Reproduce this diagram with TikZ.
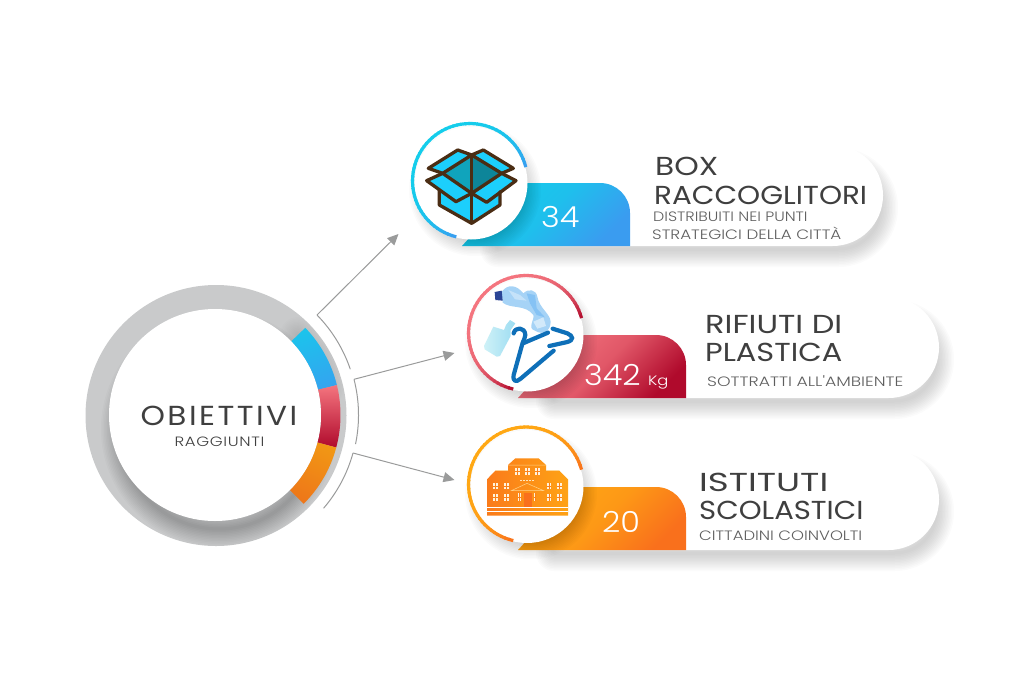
\documentclass[tikz,border=0pt]{standalone}
\usepackage{fontspec}
\setmainfont{Poppins}
\newfontfamily\sottile{Poppins Light}
\usetikzlibrary{arrows.meta}
\definecolor{testo}{HTML}{3F3F3F}
\definecolor{testochiaro}{HTML}{5E5E5E}
\definecolor{anellogrigio}{HTML}{C9CACB}
\definecolor{linea}{HTML}{9A9B9B}
\definecolor{ciano}{HTML}{14CDEB}
\definecolor{azzurro}{HTML}{3A9CF0}
\definecolor{rosa}{HTML}{F4757F}
\definecolor{rosso}{HTML}{B00A2C}
\definecolor{giallo}{HTML}{FFA814}
\definecolor{arancio}{HTML}{F9701C}
\definecolor{cartone}{HTML}{4A2D14}
\definecolor{scatola}{HTML}{1CCFFC}
\definecolor{gruccia}{HTML}{0E6FB8}
\definecolor{vetro}{HTML}{AEE8F2}
\definecolor{plastica}{HTML}{A6D3F6}
\definecolor{tappo}{HTML}{2B4596}
\tikzset{
  titolo/.style={anchor=base west, inner sep=0pt, text=testo, font=\fontsize{26}{26}\selectfont\addfontfeature{FakeStretch=#1}},
  titolo/.default=1.13,
  sotto/.style={anchor=base west, inner sep=0pt, text=testochiaro, font=\sottile\fontsize{13.6}{14}\selectfont\addfontfeature{FakeStretch=#1}},
  sotto/.default=1.2,
  numero/.style={anchor=base west, inner sep=0pt, text=white, font=\sottile\fontsize{29}{29}\selectfont\addfontfeature{FakeStretch=1.1}},
  freccia/.style={draw=linea, line width=1pt, -{Triangle[length=11pt,width=10pt]}},
  arco/.style={draw=linea, line width=1pt},
}
% soft shadow: many wide strokes, nearly transparent
\newcommand{\ombra}[2]{\foreach \w in {3,6,...,36}{\path[draw=black,line width=\w pt,opacity=#1,line join=round] #2;}}
% card with its coloured tab
\newcommand{\scheda}[5]{%
  \begin{scope}[shift={(6,-9)}]
    \ombra{.014}{(#1+40,-#2-12) -- (#3-50.5,-#2-12) arc (90:-90:41.5pt) -- (#1+30,-#2-95) -- cycle}
  \end{scope}
  \fill[white] (#1+28,-#2) -- (#3-50.5,-#2) arc (90:-90:50.5pt) -- (#1,-#2-101) -- cycle;
  \shade[top color=#4,bottom color=#5,middle color=#4!72!#5,shading angle=45] (#1,-#2-101) -- (#1+28,-#2-70) -- (#1+28,-#2-38)
    -- (#1+138,-#2-38) arc (90:0:30pt) -- (#1+168,-#2-101) -- cycle;
}
% white disc with shadow
\newcommand{\disco}[1]{%
  \ombra{.016}{(#1) ++(5,-9) circle (48pt)}
  \fill[white] (#1) ++(1pt,-2pt) circle (56.5pt);
}
% arc that goes from one colour at its ends to another in the middle
\newcommand{\anello}[5]{%
  \foreach \i in {0,...,59}{%
    \pgfmathsetmacro\aa{#2+(#3-#2)*\i/60}
    \pgfmathsetmacro\bb{#2+(#3-#2)*(\i+1.3)/60}
    \pgfmathsetmacro\mix{100*(1-((\i+.5)/30-1)^4)}
    \draw[line width=3.2pt,color=#5!\mix!#4] (#1) ++(\aa:57.5pt) arc (\aa:\bb:57.5pt);
  }
}
% window of the school
\newcommand{\finestra}[4]{%
  \fill[color=white!85!giallo] (#1,#2) rectangle ++(#3,#4);
  \draw[color=arancio!70!giallo,line width=.35pt] (#1+#3/2,#2) -- ++(0,#4) (#1,#2+#4/2) -- ++(#3,0);
}
\begin{document}
\begin{tikzpicture}[x=1pt,y=1pt]
\useasboundingbox (0,0) rectangle (1024,-683);
\coordinate (hub) at (215,-415);

% big ring
\fill[anellogrigio] (216,-415.5) circle (130.5pt);
\begin{scope}
  \clip (216,-415.5) circle (130.5pt);
  \ombra{.019}{(hub) ++(4,-14) circle (100pt)}
  \ombra{.006}{(hub) ++(44:115pt) arc (44:14:115pt) -- cycle}
\end{scope}
\shade[top color=ciano,bottom color=azzurro,shading angle=20] (hub) ++(44:125.5pt) arc (44:13.8:125.5pt)
  -- ++(193.8:19.5pt) arc (13.8:44:106pt) -- cycle;
\shade[top color=rosa,bottom color=rosso] (hub) ++(13.8:125.5pt) arc (13.8:-15:125.5pt)
  -- ++(165:19.5pt) arc (-15:13.8:106pt) -- cycle;
\shade[top color=giallo!95!black,bottom color=arancio!95!black,shading angle=-25] (hub) ++(-15:125.5pt) arc (-15:-45:125.5pt)
  -- ++(135:19.5pt) arc (-45:-15:106pt) -- cycle;
\fill[white] (hub) circle (106pt);
\node[text=testo, inner sep=0pt, font=\fontsize{27.5}{28}\selectfont\addfontfeature{LetterSpace=9,FakeStretch=1.13}] (obiettivi) at (219,-416) {OBIETTIVI};
\node[text=testo, inner sep=0pt, font=\sottile\fontsize{13.5}{14}\selectfont\addfontfeature{LetterSpace=5,FakeStretch=1.22}] (raggiunti) at (219.5,-442) {RAGGIUNTI};

% arcs and arrows
\coordinate (startA) at (317,-315);
\coordinate (tipA) at (398.5,-234);
\coordinate (startB) at (354,-379.3);
\coordinate (tipB) at (454.5,-353);
\coordinate (startC) at (353,-453);
\coordinate (tipC) at (454.5,-480);
\draw[arco] (startA) arc (44.4:18.7:143pt);
\draw[arco] (startB) arc (14.4:-11.7:143.5pt);
\draw[arco] (startC) arc (-15.4:-40.7:143pt);
\draw[freccia] (startA) -- (tipA);
\draw[freccia] (startB) -- (tipB);
\draw[freccia] (startC) -- (tipC);

% cards
\scheda{462}{145}{883}{ciano}{azzurro}
\scheda{518}{297}{939}{rosa}{rosso}
\scheda{518}{449}{939}{giallo}{arancio}

\coordinate (boxC) at (470,-181);
\coordinate (plasticaC) at (526,-333);
\coordinate (scuolaC) at (526,-484.5);
\disco{boxC}
\disco{plasticaC}
\disco{scuolaC}
\anello{boxC}{14}{255}{azzurro}{ciano}
\anello{plasticaC}{15}{256}{rosso}{rosa}
\anello{scuolaC}{15}{256}{arancio}{giallo}

% box
\begin{scope}[shift={(420,-140)},x=0.3333pt,y=-0.3333pt]
  \fill[scatola] (58,150) -- (58,195) -- (155,250) -- (240,195) -- (240,150) -- (155,100) -- cycle;
  \fill[scatola] (113,30) -- (25,85) -- (68,100) -- (155,45) -- cycle;
  \fill[scatola] (190,30) -- (280,85) -- (245,100) -- (155,45) -- cycle;
  \fill[scatola] (68,100) -- (20,122) -- (108,185) -- (155,160) -- cycle;
  \fill[scatola] (245,100) -- (288,122) -- (200,187) -- (155,160) -- cycle;
  \fill[color=ciano!80!black] (155,45) -- (68,100) -- (155,160) -- cycle;
  \fill[color=ciano!65!black] (155,45) -- (245,100) -- (155,160) -- cycle;
  \begin{scope}[draw=cartone,line width=3.3pt,line join=round,line cap=round]
    \draw (113,30) -- (25,85) -- (68,100) -- (155,45) -- cycle;
    \draw (190,30) -- (280,85) -- (245,100) -- (155,45) -- cycle;
    \draw (68,100) -- (20,122) -- (108,185) -- (155,160) -- (245,100) -- (288,122) -- (200,187) -- (155,160) -- cycle;
    \draw (58,150) -- (58,195) -- (155,250) -- (240,195) -- (240,155);
    \draw (155,45) -- (155,250);
  \end{scope}
\end{scope}

% bottles and hanger
\begin{scope}[shift={(480,-280)},x=0.3333pt,y=-0.3333pt]
  \shade[left color=vetro!60!white,right color=vetro!85!azzurro] (40,140) -- (72,150) -- (78,135) -- (90,120) -- (106,130) -- (92,150) -- (92,168) -- (60,228) -- (50,230) -- (14,208) -- (12,198) -- cycle;
  \fill[color=plastica] (65,35) .. controls (85,10) and (110,15) .. (130,40) .. controls (145,25) and (168,28) .. (172,50)
    .. controls (178,85) and (210,100) .. (212,125) .. controls (212,152) and (190,168) .. (165,152)
    .. controls (140,145) and (165,118) .. (160,105) .. controls (135,72) and (95,88) .. (68,68) -- cycle;
  \fill[color=white,opacity=.5] (160,125) -- (190,112) -- (198,138) -- (172,146) -- cycle;
  \fill[color=white,opacity=.35] (85,30) -- (120,45) -- (140,62) -- (105,58) -- cycle;
  \fill[color=azzurro,opacity=.3] (140,40) -- (165,45) -- (170,85) -- (195,112) -- (170,105) -- (150,70) -- cycle;
  \fill[color=tappo] (44,36) -- (65,32) -- (68,62) -- (46,60) -- cycle;
  \draw[color=gruccia,line width=4.2pt,line cap=round,line join=round]
    (101,160) .. controls (105,140) and (135,140) .. (136,165) .. controls (136,175) and (130,180) .. (128,188)
    -- (101,285) .. controls (98,305) and (108,308) .. (122,296) -- (221,212);
  \draw[color=gruccia,line width=4.2pt,line cap=round] (129,190) -- (204,158);
  \draw[color=gruccia,line width=4.2pt,line cap=round] (218,146) -- (262,160) .. controls (280,168) and (282,180) .. (262,186) -- (208,198);
\end{scope}

% school
\begin{scope}[shift={(482,-450)},x=0.3333pt,y=-0.3333pt]
  \shade[left color=arancio!80!giallo,right color=giallo!90!arancio] (15,88) -- (40,62) -- (78,62) -- (78,45) -- (100,25)
    -- (170,25) -- (192,45) -- (192,62) -- (232,62) -- (258,88) -- (258,197) -- (15,197) -- cycle;
  \draw[color=white,line width=.8pt] (15,172.5) -- (258,172.5) (15,185) -- (258,185);
  \draw[color=white!50!giallo,line width=.5pt] (78,45) -- (192,45) (40,62) -- (78,62) (192,62) -- (232,62) (88,122) -- (135,100) -- (185,122) -- cycle;
  \fill[color=arancio] (125,128) rectangle (150,170);
  \foreach \x in {98,128,158}{\finestra{\x}{55}{15}{20}}
  \foreach \x in {33,66,194,226}{
    \finestra{\x}{100}{14}{18}
    \finestra{\x}{133}{14}{19}
  }
  \foreach \x in {108,155}{\finestra{\x}{130}{8}{22}}
  \draw[color=white!70!giallo,line width=1.2pt,dash pattern=on 2pt off 1pt] (115,92) -- (155,92);
\end{scope}

% card texts
\node[numero] (box34) at (541,-227) {34};
\node[titolo=1.2] (boxA) at (655,-175) {BOX};
\node[titolo] (boxB) at (654,-204) {RACCOGLITORI};
\node[sotto=1.17] (boxD) at (653,-221) {DISTRIBUITI NEI PUNTI};
\node[sotto=1.23] (boxE) at (652,-239) {STRATEGICI DELLA CITTÀ};

\node[numero] (rifiuti342) at (584,-385) {342};
\node[sotto, text=white] (rifiutiKg) at (648,-385) {Kg};
\node[titolo=1.23] (rifiutiA) at (705,-333) {RIFIUTI DI};
\node[titolo=1.17] (rifiutiB) at (705,-361) {PLASTICA};
\node[sotto=1.27] (rifiutiD) at (707,-386) {SOTTRATTI ALL'AMBIENTE};

\node[numero] (istituti20) at (602,-532) {20};
\node[titolo=1.37] (istitutiA) at (699,-491) {ISTITUTI};
\node[titolo=1.12] (istitutiB) at (699,-519) {SCOLASTICI};
\node[sotto=1.21] (istitutiD) at (699,-540) {CITTADINI COINVOLTI};
\end{tikzpicture}
\end{document}
